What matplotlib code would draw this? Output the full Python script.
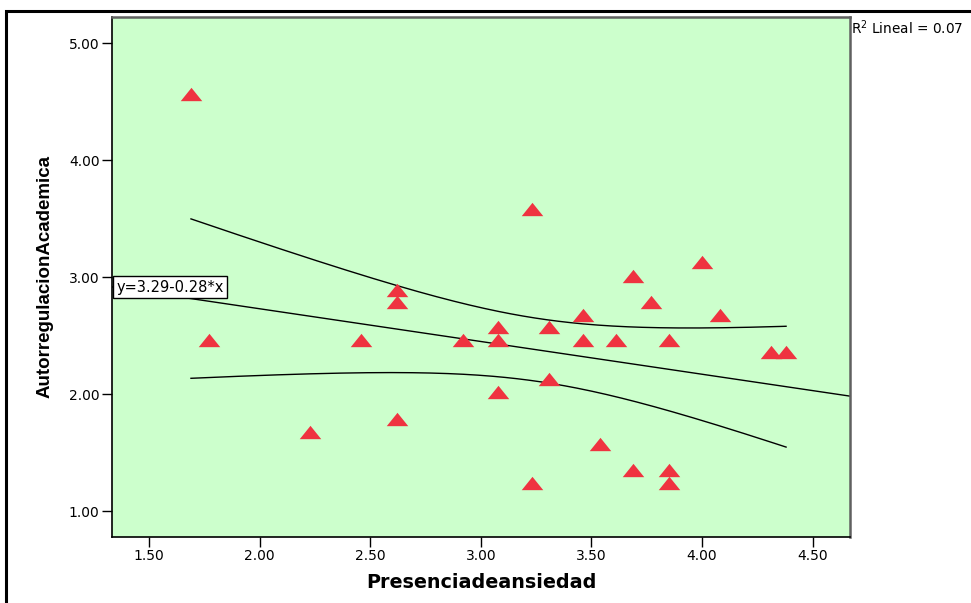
import numpy as np
import matplotlib
matplotlib.use('Agg')
import matplotlib.pyplot as plt
from matplotlib.patches import Rectangle

# Data (Presenciadeansiedad vs AutorregulacionAcademica)
ansiedad = [1.69, 1.77, 2.23, 2.46, 2.62, 2.62, 2.62, 2.92, 3.08, 3.08,
            3.08, 3.23, 3.23, 3.31, 3.31, 3.46, 3.46, 3.54, 3.61, 3.69,
            3.69, 3.77, 3.85, 3.85, 3.85, 4.00, 4.08, 4.31, 4.38]
autorregulacion = [4.57, 2.46, 1.68, 2.46, 2.89, 2.79, 1.79, 2.46, 2.57, 2.46,
                   2.02, 3.58, 1.24, 2.57, 2.13, 2.68, 2.46, 1.57, 2.46, 3.01,
                   1.35, 2.79, 2.46, 1.35, 1.24, 3.13, 2.68, 2.36, 2.36]

# printed fit
intercept = 3.29
slope = -0.28
t_crit = 2.052  # t(0.975, df=27)

x = np.array(ansiedad)
y = np.array(autorregulacion)
n = len(x)

W, H = 971, 603
fig = plt.figure(figsize=(W / 100, H / 100), dpi=100)

# outer frame of the SPSS output
fig.patches.append(Rectangle((6 / W, -0.1), 1.2, 1 - 11 / H + 0.1, transform=fig.transFigure,
                             fill=False, edgecolor='black', linewidth=2.2))

ax = fig.add_axes([112 / W, (H - 537) / H, (850 - 112) / W, (537 - 17) / H])
ax.set_facecolor('#ccffcc')
ax.set_xlim(1.333, 4.669)
ax.set_ylim(0.778, 5.225)

# mean confidence band
xbar = x.mean()
sxx = ((x - xbar) ** 2).sum()
fit = intercept + slope * x
s = np.sqrt(((y - fit) ** 2).sum() / (n - 2))
xs = np.linspace(x.min(), x.max(), 200)
half = t_crit * s * np.sqrt(1 / n + (xs - xbar) ** 2 / sxx)
ax.plot(xs, intercept + slope * xs + half, color='black', linewidth=1)
ax.plot(xs, intercept + slope * xs - half, color='black', linewidth=1)

xl = np.array(ax.get_xlim())
ax.plot(xl, intercept + slope * xl, color='black', linewidth=1)

tri = [(-1, -0.62), (1, -0.62), (0, 0.62), (-1, -0.62)]
ax.scatter(x, y, marker=tri, s=15.5 ** 2, color='#ef3340', linewidths=0, zorder=3)

ax.text(0.006, 2.915, 'y=3.29-0.28*x', transform=ax.get_yaxis_transform(),
        fontsize=10.5, family='DejaVu Sans', va='center', ha='left',
        bbox=dict(boxstyle='square,pad=0.25', facecolor='white', edgecolor='black', linewidth=1))

fig.text(851 / W, 1 - 28 / H, 'R$^2$ Lineal = 0.07', fontsize=9.8, family='DejaVu Sans',
         ha='left', va='center')

ax.set_xticks([1.5, 2.0, 2.5, 3.0, 3.5, 4.0, 4.5])
ax.set_yticks([1.0, 2.0, 3.0, 4.0, 5.0])
ax.xaxis.set_major_formatter(matplotlib.ticker.FormatStrFormatter('%.2f'))
ax.yaxis.set_major_formatter(matplotlib.ticker.FormatStrFormatter('%.2f'))
ax.tick_params(direction='out', length=7, width=1, labelsize=10, color='black', pad=2)
for lab in ax.get_xticklabels() + ax.get_yticklabels():
    lab.set_family('DejaVu Sans')

ax.set_xlabel('Presenciadeansiedad', fontsize=13.8, fontweight='bold',
              family='DejaVu Sans', labelpad=7)
ax.set_ylabel('AutorregulacionAcademica', fontsize=13.5, fontweight='bold',
              family=['Liberation Sans Narrow', 'Liberation Sans'], labelpad=11)

for side in ['left', 'bottom']:
    ax.spines[side].set_color('black')
    ax.spines[side].set_linewidth(1.2)
for side in ['top', 'right']:
    ax.spines[side].set_color('#606060')
    ax.spines[side].set_linewidth(1.8)

fig.savefig('out.png', dpi=100)
